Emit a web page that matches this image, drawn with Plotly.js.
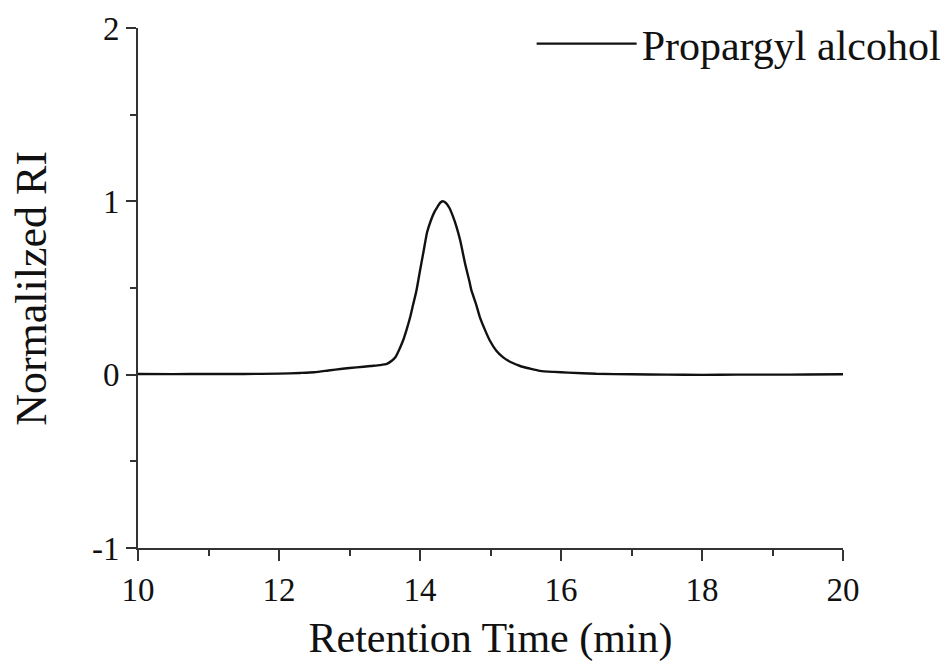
<!DOCTYPE html>
<html>
<head>
<meta charset="utf-8">
<script src="https://cdn.plot.ly/plotly-3.0.1.min.js"></script>
<style>html,body{margin:0;padding:0;background:#fff;}#chart{width:949px;height:664px;}</style>
</head>
<body>
<div id="chart"></div>
<script>
var seriesName = "Propargyl alcohol";
var retentionTime = [10.0, 10.5, 11.0, 11.5, 12.0, 12.3, 12.5, 12.7, 12.9, 13.1, 13.3, 13.43, 13.53, 13.6, 13.65, 13.7, 13.76, 13.81, 13.86, 13.9, 13.95, 14.0, 14.05, 14.1, 14.15, 14.2, 14.25, 14.29, 14.33, 14.37, 14.42, 14.47, 14.52, 14.57, 14.64, 14.7, 14.73, 14.8, 14.85, 14.92, 14.99, 15.08, 15.18, 15.3, 15.42, 15.56, 15.7, 15.9, 16.1, 16.5, 17.0, 17.5, 18.0, 18.5, 19.0, 19.5, 20.0];
var normalizedRI = [0.004, 0.003, 0.004, 0.004, 0.006, 0.010, 0.014, 0.024, 0.034, 0.042, 0.050, 0.055, 0.062, 0.080, 0.100, 0.140, 0.197, 0.260, 0.331, 0.400, 0.486, 0.600, 0.710, 0.820, 0.885, 0.935, 0.970, 0.993, 1.000, 0.990, 0.960, 0.910, 0.850, 0.775, 0.640, 0.540, 0.486, 0.400, 0.331, 0.260, 0.197, 0.140, 0.100, 0.070, 0.050, 0.035, 0.022, 0.016, 0.012, 0.005, 0.002, 0.000, -0.001, 0.000, 0.000, 0.001, 0.002];
var xTicks = [10, 12, 14, 16, 18, 20];
var yTicks = [-1, 0, 1, 2];
var xTitle = "Retention Time (min)";
var yTitle = "Normalilzed RI";

var font = "Liberation Serif, Times New Roman, serif";
var trace = {
  x: retentionTime, y: normalizedRI, type: "scatter", mode: "lines",
  name: seriesName,
  line: {color: "#111111", width: 2.4, shape: "spline", smoothing: 0.6}
};
var layout = {
  width: 949, height: 664,
  margin: {l: 138, r: 106, t: 28, b: 116, autoexpand: false},
  paper_bgcolor: "#ffffff", plot_bgcolor: "#ffffff",
  font: {family: font, color: "#111111"},
  showlegend: true,
  legend: {x: 1.147, y: 1.035, xanchor: "right", yanchor: "top", bgcolor: "rgba(0,0,0,0)",
           font: {family: font, size: 42, color: "#111111"}, itemwidth: 100},
  xaxis: {
    range: [10, 20], tickvals: xTicks, ticktext: xTicks.map(String),
    showgrid: false, zeroline: false, showline: true, linecolor: "#333333", linewidth: 2,
    ticks: "outside", ticklen: 11, tickwidth: 2, tickcolor: "#333333",
    tickfont: {family: font, size: 33, color: "#111111"},
    minor: {dtick: 1, tick0: 10, ticks: "outside", ticklen: 6, tickwidth: 2, tickcolor: "#333333", showgrid: false},
    title: {text: xTitle, font: {family: font, size: 42, color: "#111111"}, standoff: 16}
  },
  yaxis: {
    range: [-1, 2], tickvals: yTicks, ticktext: yTicks.map(String),
    showgrid: false, zeroline: false, showline: true, linecolor: "#333333", linewidth: 2,
    ticks: "outside", ticklen: 10, tickwidth: 2, tickcolor: "#333333",
    tickfont: {family: font, size: 33, color: "#111111"},
    minor: {dtick: 0.5, tick0: 0, ticks: "outside", ticklen: 6, tickwidth: 2, tickcolor: "#333333", showgrid: false}
  },
  annotations: [{
    text: yTitle, xref: "paper", yref: "paper", x: -0.152, y: 0.5,
    xanchor: "center", yanchor: "middle", textangle: -90, showarrow: false,
    font: {family: font, size: 44, color: "#111111"}
  }]
};
Plotly.newPlot("chart", [trace], layout, {displayModeBar: false, staticPlot: true});
</script>
</body>
</html>
